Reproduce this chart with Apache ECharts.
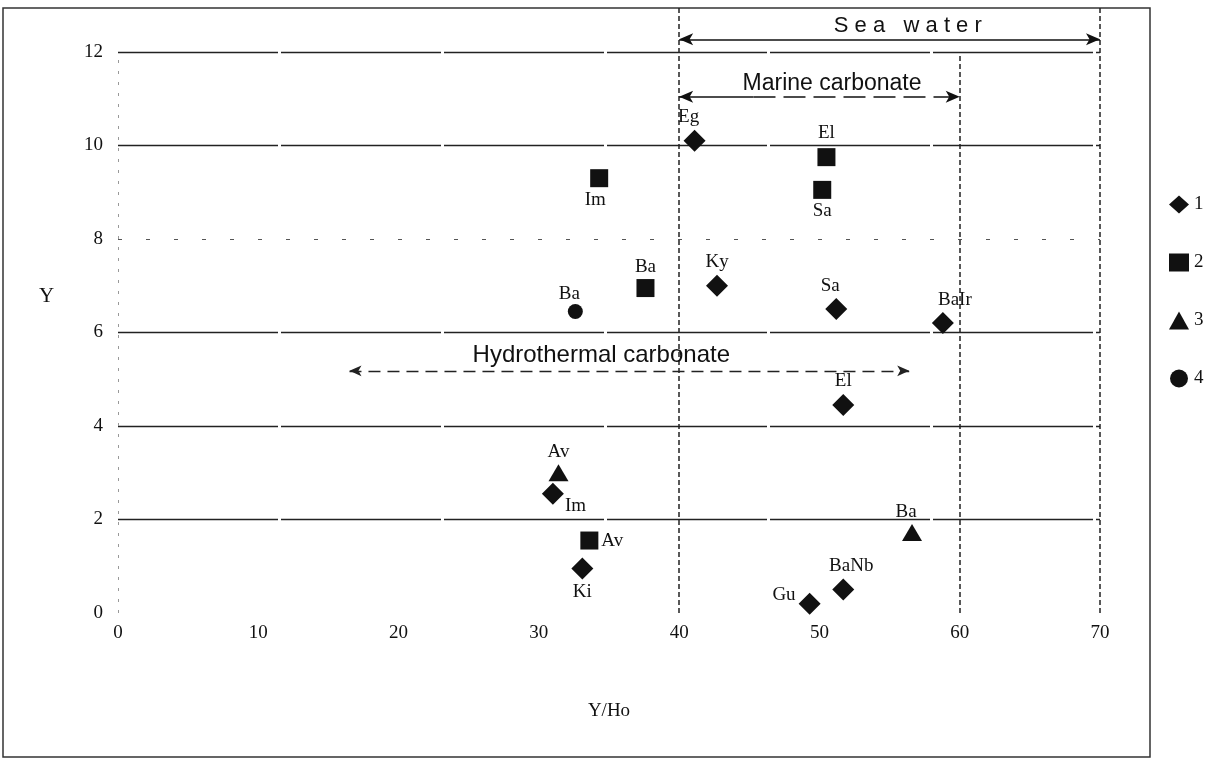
<!DOCTYPE html>
<html>
<head>
<meta charset="utf-8">
<script src="https://cdn.jsdelivr.net/npm/echarts@6/dist/echarts.min.js"></script>
<style>
  html, body { margin: 0; padding: 0; background: #fff; }
  #chart { width: 1218px; height: 764px; }
</style>
</head>
<body>
<div id="chart"></div>
<script>
// data: x = Y/Ho, y = Y
const seriesNames = ["1", "2", "3", "4"];

const names1 = ["Eg", "Ky", "Sa", "BaIr", "El", "Im", "Ki", "Gu", "BaNb"];
const x1 = [41.1, 42.7, 51.2, 58.8, 51.7, 31.0, 33.1, 49.3, 51.7];
const y1 = [10.1, 7.0, 6.5, 6.2, 4.45, 2.55, 0.95, 0.2, 0.5];

const names2 = ["El", "Sa", "Im", "Ba", "Av"];
const x2 = [50.5, 50.2, 34.3, 37.6, 33.6];
const y2 = [9.75, 9.05, 9.3, 6.95, 1.55];

const names3 = ["Av", "Ba"];
const x3 = [31.4, 56.6];
const y3 = [3.0, 1.72];

const names4 = ["Ba"];
const x4 = [32.6];
const y4 = [6.45];

// axes, grid lines and ranges
const xMin = 0, xMax = 70, xStep = 10;
const yMin = 0, yTop = 12, yMax = 12.94, yStep = 2;
const hLines = [2, 4, 6, 10, 12];
const dotLine = 8;
const seaWater = { from: 40, to: 70, y: 12.27 };
const marine = { from: 40, split: 45.3, to: 60, y: 11.04 };
const hydro = { from: 16.5, to: 56.4, y: 5.18 };

// label placement (style only)
const place1 = [
  { position: "top", offset: [-6, 0] },
  { position: "top" },
  { position: "top", offset: [-6, 0] },
  { position: "top", offset: [12, 0] },
  { position: "top" },
  { position: "right", offset: [-2, 12] },
  { position: "bottom" },
  { position: "left", offset: [0, -9] },
  { position: "top", offset: [8, 0] },
];
const place2 = [
  { position: "top", offset: [0, -3] },
  { position: "bottom" },
  { position: "bottom", offset: [-4, 0] },
  { position: "top" },
  { position: "right" },
];
const place3 = [{ position: "top" }, { position: "top", offset: [-6, 0] }];
const place4 = [{ position: "top", offset: [-6, 3] }];

const serif = "'Liberation Serif', 'DejaVu Serif', serif";
const sans = "'Liberation Sans', Arial, sans-serif";
const ink = "#111";

const toPoints = (xs, ys, names, places) =>
  xs.map((x, i) => ({
    value: [x, ys[i]],
    name: names[i],
    label: places[i],
  }));

const pointSeries = (name, symbol, size, data) => ({
  name: name,
  type: "scatter",
  symbol: symbol,
  symbolSize: size,
  itemStyle: { color: ink, opacity: 1 },
  label: {
    show: true,
    formatter: "{b}",
    fontFamily: serif,
    fontSize: 19,
    color: ink,
    distance: 3,
  },
  data: data,
  z: 5,
});

const gridLine = (y, type, width, color) => ({
  yAxis: y,
  lineStyle: { type: type, width: width, color: color },
});

const vLine = (x, top) => [
  { coord: [x, 0], lineStyle: { type: [5, 3], width: 1.5, color: "#222" } },
  { coord: [x, top] },
];

// a line with no stroke that only carries a text label over a range
const textOnly = (from, to, y, text, size, dist) => [
  {
    coord: [from, y],
    symbol: "none",
    lineStyle: { width: 0, color: "rgba(0,0,0,0)" },
    label: {
      show: true,
      position: "middle",
      formatter: text,
      fontFamily: sans,
      fontSize: size,
      color: ink,
      distance: dist,
    },
  },
  { coord: [to, y], symbol: "none" },
];

const myChart = echarts.init(document.getElementById("chart"));

const options = {
  animation: false,
  backgroundColor: "#fff",
  grid: { left: 118, right: 118, top: 8, bottom: 151 },
  legend: {
    data: seriesNames,
    orient: "vertical",
    left: 1164,
    top: 190,
    itemWidth: 20,
    itemHeight: 18,
    itemGap: 39,
    textStyle: { fontFamily: serif, fontSize: 19, color: ink },
  },
  xAxis: {
    type: "value",
    min: xMin,
    max: xMax,
    interval: xStep,
    name: "Y/Ho",
    nameLocation: "middle",
    nameGap: 89,
    nameTextStyle: { fontFamily: serif, fontSize: 19, color: ink },
    axisLine: { show: false },
    axisTick: { show: false },
    splitLine: { show: false },
    axisLabel: { fontFamily: serif, fontSize: 19, color: ink, margin: 11 },
  },
  yAxis: {
    type: "value",
    min: yMin,
    max: yMax,
    interval: yStep,
    axisLine: { show: false },
    axisTick: { show: false },
    splitLine: { show: false },
    axisLabel: { fontFamily: serif, fontSize: 19, color: ink, margin: 15, showMaxLabel: false },
  },
  graphic: [
    {
      type: "rect",
      shape: { x: 3, y: 8, width: 1147, height: 749 },
      style: { fill: "none", stroke: "#333", lineWidth: 1.5 },
      silent: true,
    },
    {
      type: "text",
      left: 39,
      top: 286,
      style: { text: "Y", fontFamily: serif, fontSize: 21, fill: ink },
    },
  ],
  series: [
    pointSeries(seriesNames[0], "diamond", 22, toPoints(x1, y1, names1, place1)),
    pointSeries(seriesNames[1], "rect", 18, toPoints(x2, y2, names2, place2)),
    pointSeries(seriesNames[2], "triangle", [20, 17], toPoints(x3, y3, names3, place3)),
    pointSeries(seriesNames[3], "circle", 15, toPoints(x4, y4, names4, place4)),
    {
      // reference lines and range arrows
      name: "guides",
      type: "scatter",
      data: [],
      silent: true,
      markLine: {
        silent: true,
        symbol: "none",
        animation: false,
        label: { show: false },
        data: [
          ...hLines.map((y) => gridLine(y, [160, 3], 1.4, "#222")),
          gridLine(dotLine, [4, 24], 1.2, "#555"),
          [
            { coord: [0, 0], lineStyle: { type: [3, 8], width: 1, color: "#999" } },
            { coord: [0, yTop] },
          ],
          vLine(40, yMax),
          vLine(60, yTop),
          vLine(70, yMax),
          // Sea water
          [
            {
              coord: [seaWater.from, seaWater.y],
              symbol: "arrow",
              symbolSize: [9, 14],
              lineStyle: { type: "solid", width: 1.5, color: "#111" },
            },
            { coord: [seaWater.to, seaWater.y], symbol: "arrow", symbolSize: [9, 14] },
          ],
          textOnly(seaWater.from + 2.6, seaWater.to, seaWater.y, "S e a   w a t e r", 22, 2),
          // Marine carbonate
          [
            {
              coord: [marine.from, marine.y],
              symbol: "arrow",
              symbolSize: [9, 14],
              lineStyle: { type: "solid", width: 1.5, color: "#111" },
            },
            { coord: [marine.split, marine.y], symbol: "none" },
          ],
          [
            {
              coord: [marine.split, marine.y],
              symbol: "none",
              lineStyle: { type: [22, 8], width: 1.5, color: "#111" },
            },
            { coord: [marine.to, marine.y], symbol: "arrow", symbolSize: [9, 14] },
          ],
          textOnly(marine.from, marine.to + 1.8, marine.y, "Marine carbonate", 23, 2),
          // Hydrothermal carbonate
          [
            {
              coord: [hydro.from, hydro.y],
              symbol: "arrow",
              symbolSize: [8, 12],
              lineStyle: { type: [12, 7], width: 1.3, color: "#222" },
            },
            { coord: [hydro.to, hydro.y], symbol: "arrow", symbolSize: [8, 12] },
          ],
          textOnly(hydro.from, hydro.to - 4, hydro.y, "Hydrothermal carbonate", 24, 3),
        ],
      },
    },
  ],
};

myChart.setOption(options);
</script>
</body>
</html>
